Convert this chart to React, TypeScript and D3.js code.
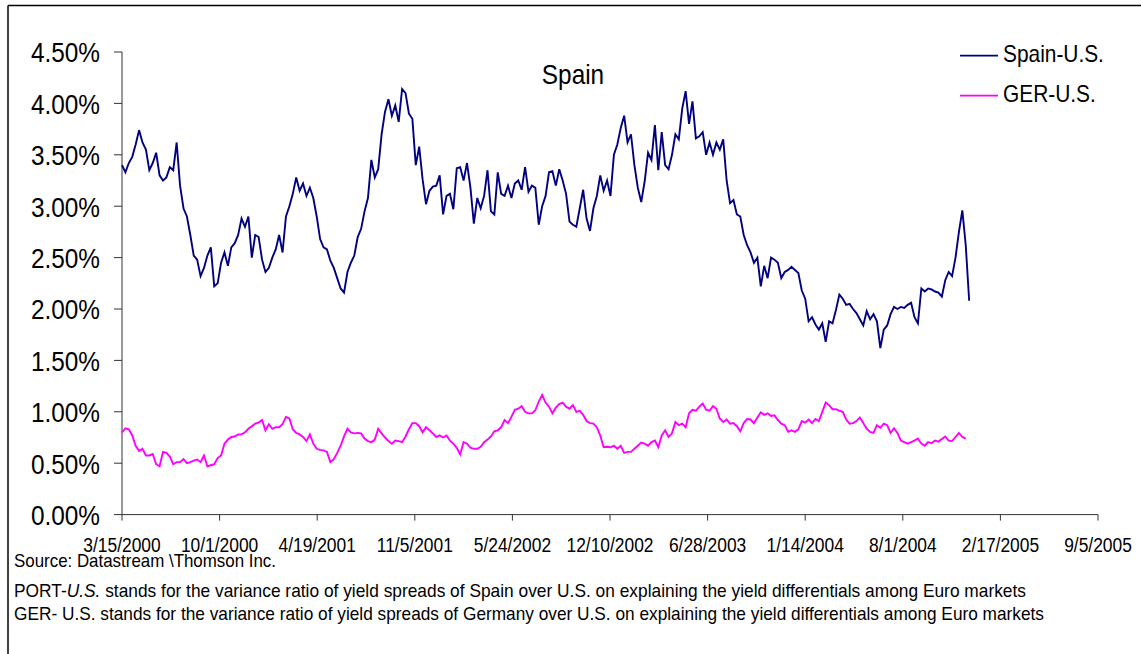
import React from "react";
import * as d3 from "d3";

// ---- data (weekly readings starting 3/15/2000, values in %) ----
const startDate = "3/15/2000";

const spainUS = [
  3.40,3.33,3.42,3.48,3.60,3.74,3.62,3.55,3.35,3.42,
  3.52,3.30,3.25,3.28,3.38,3.35,3.62,3.20,2.98,2.90,
  2.72,2.52,2.48,2.32,2.40,2.52,2.60,2.22,2.25,2.45,
  2.55,2.42,2.60,2.64,2.72,2.88,2.80,2.90,2.50,2.72,
  2.70,2.48,2.36,2.40,2.50,2.58,2.72,2.55,2.90,3.00,
  3.12,3.28,3.15,3.22,3.10,3.18,3.08,2.90,2.68,2.60,
  2.58,2.47,2.40,2.30,2.20,2.16,2.36,2.45,2.52,2.70,
  2.78,2.95,3.08,3.45,3.28,3.36,3.70,3.92,4.04,3.88,
  3.98,3.82,4.14,4.10,3.90,3.85,3.40,3.58,3.26,3.02,
  3.15,3.19,3.20,3.30,2.92,3.10,3.12,2.97,3.37,3.38,
  3.25,3.42,3.18,2.83,3.08,2.98,3.10,3.35,2.95,2.92,
  3.33,3.12,3.10,3.20,3.08,3.22,3.25,3.16,3.38,3.14,
  3.20,3.18,2.82,3.00,3.10,3.33,3.34,3.20,3.36,3.25,
  3.12,2.85,2.82,2.80,2.98,3.16,2.88,2.76,2.98,3.10,
  3.30,3.15,3.25,3.10,3.50,3.60,3.76,3.88,3.62,3.70,
  3.40,3.18,3.04,3.24,3.52,3.45,3.79,3.35,3.72,3.40,
  3.36,3.50,3.70,3.65,3.95,4.12,3.80,4.02,3.66,3.68,
  3.72,3.50,3.62,3.50,3.62,3.55,3.65,3.25,3.03,3.06,
  2.92,2.90,2.72,2.62,2.55,2.45,2.50,2.22,2.42,2.30,
  2.50,2.48,2.45,2.30,2.36,2.38,2.41,2.38,2.35,2.18,
  2.10,1.88,1.92,1.85,1.80,1.86,1.68,1.88,1.86,1.99,
  2.14,2.10,2.04,2.05,2.00,1.96,1.90,1.84,1.98,1.90,
  1.95,1.88,1.62,1.80,1.84,1.95,2.02,2.00,2.02,2.01,
  2.04,2.06,1.92,1.86,2.20,2.17,2.20,2.19,2.17,2.16,
  2.12,2.28,2.36,2.32,2.50,2.75,2.96,2.62,2.08,
];

const gerUS = [
  0.80,0.84,0.83,0.77,0.67,0.62,0.64,0.575,0.575,0.59,
  0.49,0.47,0.61,0.60,0.565,0.49,0.51,0.51,0.54,0.50,
  0.51,0.525,0.535,0.51,0.575,0.47,0.48,0.49,0.55,0.575,
  0.69,0.73,0.755,0.76,0.78,0.78,0.80,0.835,0.86,0.885,
  0.895,0.92,0.82,0.88,0.835,0.85,0.85,0.88,0.95,0.935,
  0.83,0.795,0.78,0.755,0.715,0.78,0.69,0.64,0.63,0.625,
  0.61,0.51,0.54,0.60,0.67,0.76,0.835,0.80,0.79,0.795,
  0.79,0.74,0.715,0.705,0.73,0.835,0.79,0.75,0.715,0.69,
  0.72,0.715,0.705,0.76,0.83,0.89,0.89,0.86,0.80,0.85,
  0.82,0.79,0.755,0.77,0.75,0.77,0.72,0.69,0.65,0.585,
  0.705,0.69,0.65,0.64,0.64,0.66,0.705,0.73,0.76,0.81,
  0.82,0.85,0.92,0.89,0.95,1.02,1.03,1.055,1.00,0.985,
  0.985,1.015,1.10,1.165,1.09,1.05,0.985,1.04,1.075,1.09,
  1.05,1.03,1.065,1.00,1.01,0.97,0.91,0.89,0.885,0.85,
  0.77,0.655,0.66,0.655,0.67,0.64,0.67,0.60,0.61,0.61,
  0.64,0.67,0.70,0.69,0.67,0.705,0.72,0.655,0.77,0.82,
  0.755,0.79,0.90,0.87,0.885,0.85,0.985,1.02,1.01,1.05,
  1.08,1.02,1.01,1.055,1.03,0.935,0.90,0.925,0.885,0.89,
  0.86,0.81,0.89,0.93,0.925,0.89,0.945,0.995,0.97,0.985,
  0.96,0.965,0.92,0.885,0.87,0.805,0.82,0.805,0.83,0.91,
  0.895,0.925,0.89,0.93,0.91,1.00,1.09,1.065,1.025,1.025,
  1.01,1.00,0.925,0.885,0.89,0.91,0.945,0.89,0.835,0.805,
  0.795,0.87,0.845,0.885,0.87,0.795,0.84,0.795,0.72,0.705,
  0.69,0.705,0.72,0.74,0.69,0.67,0.705,0.695,0.72,0.71,
  0.735,0.76,0.72,0.715,0.755,0.795,0.755,0.74,
];

const xTickLabels = [
  "3/15/2000","10/1/2000","4/19/2001","11/5/2001","5/24/2002","12/10/2002",
  "6/28/2003","1/14/2004","8/1/2004","2/17/2005","9/5/2005",
];
const yTicks = [0, 0.5, 1.0, 1.5, 2.0, 2.5, 3.0, 3.5, 4.0, 4.5];

const seriesNames = ["Spain-U.S.", "GER-U.S."];
const seriesColors = ["#000080", "#FF00FF"];
const title = "Spain";

// ---- layout ----
const W = 1141, H = 654;
const X0 = 122, X1 = 1098, Y0 = 514.6, Y1 = 52;
const FONT = "'Liberation Sans', Arial, Helvetica, sans-serif";
const SX = 0.87;

const parse = d3.utcParse("%m/%d/%Y");
const start = parse(startDate) as Date;
const toSeries = (vals: number[]) =>
  vals.map((v, i) => ({ date: d3.utcDay.offset(start, i * 7), v }));

function NarrowText({ x, y, size, anchor = "start", children }: any) {
  return (
    <text
      transform={`translate(${x},${y}) scale(${SX},1)`}
      fontSize={size}
      fontFamily={FONT}
      textAnchor={anchor}
      fill="#000"
    >
      {children}
    </text>
  );
}

export default function App() {
  const tickDates = xTickLabels.map((s) => parse(s) as Date);
  const x = d3
    .scaleUtc()
    .domain([tickDates[0], tickDates[tickDates.length - 1]])
    .range([X0, X1]);
  const y = d3.scaleLinear().domain([0, 4.5]).range([Y0, Y1]);
  const line = d3
    .line<{ date: Date; v: number }>()
    .x((d) => x(d.date))
    .y((d) => y(d.v));
  const fmt = (v: number) => d3.format(".2f")(v) + "%";

  const series = [toSeries(spainUS), toSeries(gerUS)];

  return (
    <svg
      width={W}
      height={H}
      style={{ position: "fixed", left: 0, top: 0, background: "#fff" }}
    >
      <rect x={0} y={0} width={W} height={H} fill="#fff" />
      {/* frame */}
      <line x1={8} x2={W} y1={5.5} y2={5.5} stroke="#000" strokeWidth={1.5} />
      <line x1={8} x2={8} y1={5.5} y2={H} stroke="#000" strokeWidth={1.5} />

      {/* y axis */}
      <line x1={X0} x2={X0} y1={Y1} y2={Y0} stroke="#333" strokeWidth={1} />
      {yTicks.map((t) => (
        <g key={t}>
          <line x1={X0 - 8} x2={X0} y1={y(t)} y2={y(t)} stroke="#333" strokeWidth={1} />
          <NarrowText x={100} y={y(t) + 10.3} size={28} anchor="end">
            {fmt(t)}
          </NarrowText>
        </g>
      ))}

      {/* x axis */}
      <line x1={X0} x2={X1} y1={Y0} y2={Y0} stroke="#333" strokeWidth={1} />
      {tickDates.map((d, i) => (
        <g key={i}>
          <line x1={x(d)} x2={x(d)} y1={Y0} y2={Y0 + 6} stroke="#333" strokeWidth={1} />
          <NarrowText x={x(d)} y={551.5} size={20} anchor="middle">
            {xTickLabels[i]}
          </NarrowText>
        </g>
      ))}

      {/* series */}
      {series.map((s, i) => (
        <path
          key={i}
          d={line(s) || ""}
          fill="none"
          stroke={seriesColors[i]}
          strokeWidth={1.9}
          strokeLinejoin="miter"
        />
      ))}

      {/* title */}
      <NarrowText x={573} y={84} size={28} anchor="middle">
        {title}
      </NarrowText>

      {/* legend */}
      {seriesNames.map((n, i) => (
        <g key={n}>
          <line
            x1={960}
            x2={998}
            y1={55.7 + i * 40}
            y2={55.7 + i * 40}
            stroke={seriesColors[i]}
            strokeWidth={1.8}
          />
          <NarrowText x={1003} y={62.3 + i * 39.5} size={24}>
            {n}
          </NarrowText>
        </g>
      ))}

      {/* footnotes */}
      <text x={14} y={567} fontSize={19} fontFamily={FONT} textLength={262} lengthAdjust="spacingAndGlyphs">
        Source: Datastream \Thomson Inc.
      </text>
      <text x={14} y={597} fontSize={19} fontFamily={FONT} textLength={1012} lengthAdjust="spacingAndGlyphs">
        PORT-<tspan fontStyle="italic">U.S.</tspan> stands for the variance ratio of yield spreads of Spain over U.S. on explaining the yield differentials among Euro markets
      </text>
      <text x={14} y={620} fontSize={19} fontFamily={FONT} textLength={1030} lengthAdjust="spacingAndGlyphs">
        GER- U.S. stands for the variance ratio of yield spreads of Germany over U.S. on explaining the yield differentials among Euro markets
      </text>
    </svg>
  );
}
